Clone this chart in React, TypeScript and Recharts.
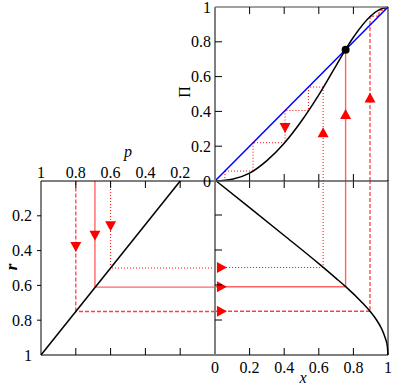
import { ComposedChart, Line, Scatter, XAxis, YAxis } from 'recharts';

const SERIF = '"Liberation Serif", "DejaVu Serif", serif';
const FONT = { fontFamily: SERIF, fontSize: 16, fill: '#000' };

// top-right panel: Pi(x)
const piX = [0, 0.1, 0.2, 0.3, 0.4, 0.5, 0.6, 0.7, 0.8, 0.9, 0.95, 1];
const piY = [0, 0.01, 0.045, 0.117, 0.217, 0.345, 0.495, 0.663, 0.826, 0.948, 0.985, 1];

// iterates of the map, one list per starting point
const iterDotted = [0.625, 0.54, 0.405, 0.22, 0.057, 0.006];
const iterSolid = [0.755, 0.755];
const iterDashed = [0.896, 0.948, 0.982, 0.996];
const fixedPoint = [{ x: 0.755, y: 0.755 }];

// bottom-right panel: r vs x
const brX = [0, 0.2, 0.4, 0.6, 0.7, 0.757, 0.85, 0.896, 0.934, 0.963, 0.983, 0.996, 1];
const brR = [0, 0.158, 0.317, 0.478, 0.562, 0.611, 0.7, 0.75, 0.8, 0.85, 0.9, 0.95, 1];

// bottom-left panel: r vs p
const blP = [1, 0.2];
const blR = [1, 0];

const startX = [0.625, 0.755, 0.896];
const hitR = [0.5, 0.61, 0.75];
const hitP = [0.6, 0.69, 0.8];

const trDown = [{ x: 0.405, y: 0.305 }];
const trUp = [
  { x: 0.625, y: 0.28 },
  { x: 0.755, y: 0.385 },
  { x: 0.896, y: 0.48 },
];
const brArrows = [
  { x: 0.04, y: 0.5 },
  { x: 0.04, y: 0.61 },
  { x: 0.04, y: 0.75 },
];
const blDown = [
  { x: 0.6, y: 0.26 },
  { x: 0.69, y: 0.315 },
  { x: 0.8, y: 0.38 },
];

const ticks = [0, 0.2, 0.4, 0.6, 0.8, 1];

const DOTTED = { stroke: '#ff0000', strokeWidth: 1, strokeDasharray: '1 2' };
const SOLID = { stroke: '#ff3030', strokeWidth: 1.4, strokeOpacity: 0.75 };
const DASHED = { stroke: '#ff4040', strokeWidth: 1.3, strokeDasharray: '4 2' };
const STYLES = [DOTTED, SOLID, DASHED];

const GRAY = '#808080';
const PH = 174; // plot height of every panel

function zip(xs: number[], ys: number[]) {
  return xs.map((x, i) => ({ x, y: ys[i] }));
}

// cobweb path: up to the curve, across to the diagonal, and so on
function staircase(iter: number[]) {
  const pts = [{ x: iter[0], y: 0 }];
  for (let i = 0; i < iter.length - 1; i++) {
    pts.push({ x: iter[i], y: iter[i + 1] });
    if (i < iter.length - 2) pts.push({ x: iter[i + 1], y: iter[i + 1] });
  }
  return pts;
}

// split a polyline into two-point segments
function segments(pts: { x: number; y: number }[]) {
  return pts.slice(1).map((p, i) => [pts[i], p]);
}

const isInner = (v: number) => v > 0.01 && v < 0.99;

// y axis ticks: inward tick of length len, optional outward part and label
function yTick(side: 'left' | 'right', opts: { label?: (v: number) => boolean; len?: number; out?: number; gap?: number } = {}) {
  const { label = () => false, len = 7, out = 0, gap = 4 } = opts;
  const s = side === 'left' ? 1 : -1;
  return (props: any) => {
    const { x, y, payload } = props;
    const v = payload.value;
    return (
      <g>
        {isInner(v) && <line x1={x - s * out} y1={y} x2={x + s * len} y2={y} stroke="#000" />}
        {label(v) && (
          <text x={x - s * gap} y={y} dy="0.35em" textAnchor={side === 'left' ? 'end' : 'start'} {...FONT}>
            {v}
          </text>
        )}
      </g>
    );
  };
}

// x axis ticks at the bottom edge, plus the matching ones on the top edge of the panel
function xTick(opts: { bottom?: boolean; top?: boolean; labelBottom?: (v: number) => boolean; labelTop?: (v: number) => boolean } = {}) {
  const { bottom = true, top = true, labelBottom = () => false, labelTop = () => false } = opts;
  return (props: any) => {
    const { x, y, payload } = props;
    const v = payload.value;
    const yt = y - PH;
    return (
      <g>
        {bottom && isInner(v) && <line x1={x} y1={y} x2={x} y2={y - 7} stroke="#000" />}
        {top && isInner(v) && <line x1={x} y1={yt} x2={x} y2={yt + 7} stroke="#000" />}
        {labelBottom(v) && (
          <text x={x} y={y + 12} dy="0.35em" textAnchor="middle" {...FONT}>
            {v}
          </text>
        )}
        {labelTop(v) && (
          <text x={x} y={yt - 9} dy="0.35em" textAnchor="middle" {...FONT}>
            {v}
          </text>
        )}
      </g>
    );
  };
}

const triDown = (p: any) => (
  <polygon points={`${p.cx - 5.5},${p.cy - 5} ${p.cx + 5.5},${p.cy - 5} ${p.cx},${p.cy + 5}`} fill="#ff0000" />
);
const triUp = (p: any) => (
  <polygon points={`${p.cx - 5.5},${p.cy + 5} ${p.cx + 5.5},${p.cy + 5} ${p.cx},${p.cy - 5}`} fill="#ff0000" />
);
const triRight = (p: any) => (
  <polygon points={`${p.cx - 5},${p.cy - 5.5} ${p.cx - 5},${p.cy + 5.5} ${p.cx + 5},${p.cy}`} fill="#ff0000" />
);
const blackDot = (p: any) => <circle cx={p.cx} cy={p.cy} r={4} fill="#000" />;

function guides(paths: { x: number; y: number }[][]) {
  return paths.flatMap((path, i) =>
    segments(path).map((seg, j) => (
      <Line key={`g${i}-${j}`} xAxisId="b" yAxisId="l" data={seg} dataKey="y" type="linear" dot={false}
        activeDot={false} isAnimationActive={false} {...STYLES[i]} />
    )),
  );
}

const W = 415;
const H = 385;
const layer = { position: 'absolute' as const, left: 0, top: 0 };

// axis boxes are 1px wide, so margins are one less than the plot edge
function TopRight() {
  return (
    <ComposedChart width={W} height={H} margin={{ top: 6, left: 214, right: 26, bottom: 203 }}>
      <XAxis xAxisId="b" dataKey="x" type="number" domain={[0, 1]} ticks={ticks} interval={0} height={1}
        tickSize={0} tickMargin={0} tickLine={false} axisLine={{ stroke: '#555', strokeWidth: 1.5 }}
        tick={xTick()} />
      <XAxis xAxisId="t" orientation="top" dataKey="x" type="number" domain={[0, 1]} ticks={ticks} height={1}
        tickLine={false} axisLine={{ stroke: GRAY, strokeWidth: 1.5 }} tick={false} />
      <YAxis yAxisId="l" dataKey="y" type="number" domain={[0, 1]} ticks={ticks} interval={0} width={1}
        tickSize={0} tickMargin={0} tickLine={false} axisLine={{ stroke: GRAY, strokeWidth: 2 }}
        tick={yTick('left', { label: () => true })}
        label={{
          value: 'Π',
          content: () => (
            <text x={184} y={92} dy="0.35em" textAnchor="middle" transform="rotate(-90, 184, 92)" {...FONT}>
              Π
            </text>
          ),
        }} />
      <YAxis yAxisId="r" orientation="right" dataKey="y" type="number" domain={[0, 1]} ticks={ticks} interval={0}
        width={1} tickSize={0} tickMargin={0} tickLine={false} axisLine={{ stroke: '#000' }}
        tick={yTick('right', { label: () => true })} />
      {guides([staircase(iterDotted), staircase(iterSolid), staircase(iterDashed)])}
      <Line xAxisId="b" yAxisId="l" data={[{ x: 0, y: 0 }, { x: 1, y: 1 }]} dataKey="y" type="linear"
        stroke="#0000ff" strokeWidth={1.5} dot={false} activeDot={false} isAnimationActive={false} />
      <Line xAxisId="b" yAxisId="l" data={zip(piX, piY)} dataKey="y" type="monotone" stroke="#000"
        strokeWidth={1.5} dot={false} activeDot={false} isAnimationActive={false} />
      <Scatter xAxisId="b" yAxisId="l" data={trDown} shape={triDown} isAnimationActive={false} />
      <Scatter xAxisId="b" yAxisId="l" data={trUp} shape={triUp} isAnimationActive={false} />
      <Scatter xAxisId="b" yAxisId="l" data={fixedPoint} shape={blackDot} isAnimationActive={false} />
    </ComposedChart>
  );
}

function BottomRight() {
  const paths = startX.map((x0, i) => [
    { x: x0, y: 0 },
    { x: x0, y: hitR[i] },
    { x: 0, y: hitR[i] },
  ]);
  return (
    <ComposedChart width={W} height={H} margin={{ top: 180, left: 214, right: 26, bottom: 29 }}>
      <XAxis xAxisId="b" dataKey="x" type="number" domain={[0, 1]} ticks={ticks} interval={0} height={1}
        tickSize={0} tickMargin={0} tickLine={false} axisLine={{ stroke: '#000' }}
        tick={xTick({ labelBottom: () => true })}
        label={{
          value: 'x',
          content: () => (
            <text x={303} y={383} textAnchor="middle" {...FONT} fontStyle="italic">
              x
            </text>
          ),
        }} />
      <YAxis yAxisId="l" dataKey="y" type="number" domain={[0, 1]} reversed ticks={ticks} interval={0} width={1}
        tickSize={0} tickMargin={0} tickLine={false} axisLine={{ stroke: GRAY, strokeWidth: 2 }}
        tick={yTick('left')} />
      <YAxis yAxisId="r" orientation="right" dataKey="y" type="number" domain={[0, 1]} reversed ticks={ticks}
        interval={0} width={1} tickSize={0} tickMargin={0} tickLine={false} axisLine={{ stroke: '#000' }}
        tick={yTick('right')} />
      {guides(paths)}
      <Line xAxisId="b" yAxisId="l" data={zip(brX, brR)} dataKey="y" type="monotone" stroke="#000"
        strokeWidth={1.5} dot={false} activeDot={false} isAnimationActive={false} />
      <Scatter xAxisId="b" yAxisId="l" data={brArrows} shape={triRight} isAnimationActive={false} />
    </ComposedChart>
  );
}

function BottomLeft() {
  const paths = hitP.map((p, i) => [
    { x: 0, y: hitR[i] },
    { x: p, y: hitR[i] },
    { x: p, y: 0 },
  ]);
  return (
    <ComposedChart width={W} height={H} margin={{ top: 180, left: 40, right: 199, bottom: 29 }}>
      <XAxis xAxisId="b" dataKey="x" type="number" domain={[0, 1]} reversed ticks={ticks} interval={0} height={1}
        tickSize={0} tickMargin={0} tickLine={false} axisLine={{ stroke: '#000' }}
        tick={xTick({ labelTop: (v) => v > 0 })}
        label={{
          value: 'p',
          content: () => (
            <text x={128} y={157} textAnchor="middle" {...FONT} fontStyle="italic">
              p
            </text>
          ),
        }} />
      <XAxis xAxisId="t" orientation="top" dataKey="x" type="number" domain={[0, 1]} reversed ticks={ticks}
        height={1} tickLine={false} axisLine={{ stroke: '#000' }} tick={false} />
      <YAxis yAxisId="l" dataKey="y" type="number" domain={[0, 1]} reversed ticks={ticks} interval={0} width={1}
        tickSize={0} tickMargin={0} tickLine={false} axisLine={{ stroke: '#000' }}
        tick={yTick('left', { label: (v) => v > 0, len: 0, out: 4, gap: 9 })}
        label={{
          value: 'r',
          content: () => (
            <text x={11} y={267} dy="0.35em" textAnchor="middle" transform="rotate(-90, 11, 267)" {...FONT}
              fontSize={17} fontStyle="italic" fontWeight="bold">
              r
            </text>
          ),
        }} />
      <YAxis yAxisId="r" orientation="right" dataKey="y" type="number" domain={[0, 1]} reversed ticks={ticks}
        interval={0} width={1} tickSize={0} tickMargin={0} tickLine={false} axisLine={false}
        tick={yTick('right')} />
      {guides(paths)}
      <Line xAxisId="b" yAxisId="l" data={zip(blP, blR)} dataKey="y" type="linear" stroke="#000"
        strokeWidth={1.5} dot={false} activeDot={false} isAnimationActive={false} />
      <Scatter xAxisId="b" yAxisId="l" data={blDown} shape={triDown} isAnimationActive={false} />
    </ComposedChart>
  );
}

export default function App() {
  return (
    <div style={{ position: 'absolute', left: 0, top: 0, width: W, height: H, background: '#fff' }}>
      <div style={layer}>
        <BottomLeft />
      </div>
      <div style={layer}>
        <BottomRight />
      </div>
      <div style={layer}>
        <TopRight />
      </div>
    </div>
  );
}
